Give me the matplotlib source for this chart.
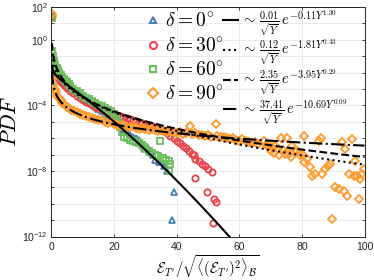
import numpy as np
import matplotlib
matplotlib.use('Agg')
import matplotlib.pyplot as plt
from matplotlib.lines import Line2D
from matplotlib.ticker import FixedLocator, NullFormatter

plt.rcParams['font.family'] = ['Liberation Sans', 'DejaVu Sans']
plt.rcParams['mathtext.fontset'] = 'cm'

# ---------------- data (x, log10 PDF) ----------------
labels_delta = [r'$\delta = 0^{\circ}$', r'$\delta = 30^{\circ}$',
                r'$\delta = 60^{\circ}$', r'$\delta = 90^{\circ}$']

x_d0 = [0.2, 0.3, 0.5, 0.8, 1.2, 1.6, 2, 2.5, 3, 3.5, 4, 4.5, 5, 5.5, 6, 6.5, 7, 7.5,
        8, 8.5, 9, 9.5, 10, 11, 12, 13, 14, 15, 16, 17, 18, 19, 20, 21, 22, 23, 24, 25,
        26, 27, 28, 29, 30, 30.8, 31.6, 32.4, 33.2, 34.5, 36, 37, 38.5, 39]
lg_d0 = [1.4, -1.2, -1.5, -1.8, -2.0, -2.1, -2.25, -2.35, -2.45, -2.52, -2.6, -2.67,
         -2.74, -2.81, -2.88, -2.95, -3.02, -3.09, -3.16, -3.23, -3.3, -3.37, -3.45,
         -3.6, -3.75, -3.9, -4.05, -4.2, -4.35, -4.5, -4.65, -4.82, -4.98, -5.12, -5.28,
         -5.45, -5.62, -5.78, -5.9, -6.0, -6.1, -6.3, -6.45, -6.6, -6.85, -7.05, -7.3,
         -7.45, -7.7, -8.0, -11.0, -9.3]

x_d30 = [0.2, 0.3, 0.5, 0.8, 1.2, 1.6, 2, 2.5, 3, 3.5, 4, 4.5, 5, 6, 7, 8, 9, 10, 11,
         12, 13, 14, 15, 16, 17, 18, 19, 20, 21, 22, 23, 24, 25, 26, 27, 28, 29, 30, 31,
         32, 33, 34, 35, 36, 37, 38, 39, 40, 41, 42, 43, 44, 45, 45.5, 46, 47, 48.1, 49,
         50, 51.3, 46, 49.7, 51.9, 52.7, 51.5]
lg_d30 = [1.45, -1.2, -1.45, -1.7, -1.9, -2.05, -2.2, -2.35, -2.5, -2.62, -2.73, -2.83,
          -2.93, -3.1, -3.25, -3.4, -3.53, -3.65, -3.77, -3.88, -3.98, -4.07, -4.16,
          -4.24, -4.32, -4.4, -4.47, -4.54, -4.6, -4.66, -4.72, -4.78, -4.84, -4.9,
          -4.96, -5.02, -5.08, -5.14, -5.2, -5.26, -5.33, -5.4, -5.48, -5.58, -5.7,
          -5.85, -6.0, -6.15, -6.3, -6.45, -6.6, -6.8, -6.95, -7.05, -7.27, -7.4, -7.58,
          -7.7, -7.85, -8.08, -8.44, -9.25, -9.7, -9.86, -11.2]

x_d60 = [0.2, 0.3, 0.5, 0.8, 1.2, 1.6, 2, 2.5, 3, 3.5, 4, 4.5, 5, 5.5, 6, 7, 8, 9, 10,
         11, 12, 13, 14, 15, 16, 17, 18, 19, 20, 20.7, 21.4, 22, 22.6, 23.2, 24, 25, 26,
         27, 28, 29, 29.5, 30, 31, 32, 33, 34, 34.8, 35.5, 36.5, 37.4, 37.5, 38]
lg_d60 = [1.35, -0.7, -1.0, -1.3, -1.55, -1.7, -1.85, -2.0, -2.15, -2.28, -2.4, -2.5,
          -2.6, -2.7, -2.8, -2.97, -3.12, -3.26, -3.4, -3.52, -3.64, -3.75, -3.85,
          -3.95, -4.05, -4.15, -4.25, -4.35, -4.5, -4.75, -5.0, -5.3, -5.6, -5.9, -6.0,
          -6.1, -6.2, -6.25, -6.3, -6.4, -6.55, -6.65, -6.8, -6.9, -7.0, -7.1, -6.2,
          -7.2, -7.3, -7.38, -7.98, -7.6]

x_d90 = [0.2, 0.3, 0.6, 1, 1.3, 1.8, 2.3, 2.9, 3.5, 4.2, 5, 5.5, 6.3, 7.1, 8, 9, 10,
         11, 12, 13, 14, 15, 16, 17, 18, 19, 20, 21, 22, 23, 24, 25, 26, 27, 28, 29, 30,
         31, 32, 33, 34, 35, 36, 37, 38, 39, 40, 41, 42, 43, 44.4, 45, 46, 47, 48, 49,
         50, 51, 52.4, 53, 54, 55, 56, 57, 58, 59, 60, 61, 62, 63, 64, 65, 66, 67.8,
         68.5, 69.5, 70, 70.5, 71, 71.5, 72.3, 72.8, 73.2, 74, 74.5, 75.3, 76, 76.6,
         76.9, 77.5, 78.5, 79.3, 80.1, 80.6, 80.8, 81.7, 82.7, 83.3, 84.2, 85.4, 86,
         86.5, 87.5, 88.2, 89, 89.7, 90.7, 91.8, 92.9, 93.4, 93.9, 94.5, 95, 96.1, 96.5,
         97.1, 97.7, 98.2, 98.7, 99.3, 99.8]
lg_d90 = [1.6, -2.4, -2.7, -3.0, -3.2, -3.4, -3.55, -3.7, -3.85, -3.97, -4.08, -4.15,
          -4.25, -4.33, -4.42, -4.52, -4.6, -4.65, -4.72, -4.78, -4.85, -4.9, -4.88,
          -5.0, -5.05, -5.0, -5.12, -5.2, -5.25, -5.2, -5.3, -5.32, -5.28, -5.38, -5.42,
          -5.35, -5.45, -5.5, -5.42, -5.48, -5.55, -5.5, -5.58, -5.62, -5.55, -5.65,
          -5.7, -5.6, -5.72, -5.68, -5.25, -5.75, -5.7, -5.8, -5.78, -5.85, -5.82, -5.9,
          -5.15, -5.88, -5.95, -5.9, -6.0, -6.05, -5.98, -6.1, -6.15, -6.05, -6.2,
          -6.22, -6.3, -6.25, -6.35, -6.16, -6.4, -6.45, -6.8, -6.55, -6.9, -6.5, -6.65,
          -7.05, -5.96, -6.7, -6.95, -5.96, -6.97, -7.17, -6.47, -6.8, -6.77, -7.0,
          -6.97, -5.86, -7.47, -7.27, -7.78, -8.28, -8.18, -6.16, -5.96, -8.18, -7.88,
          -7.7, -7.58, -10.9, -8.99, -9.09, -6.26, -9.19, -6.67, -9.5, -8.18, -6.06,
          -8.3, -7.38, -8.28, -9.7, -8.5, -8.18, -7.9]

series_x = [x_d0, x_d30, x_d60, x_d90]
series_lg = [lg_d0, lg_d30, lg_d60, lg_d90]

# fitted curves  a/sqrt(Y) * exp(-b Y^c), parameters given in the legend
fit_a = [0.01, 0.12, 2.35, 37.41]
fit_b = [0.11, 1.81, 3.95, 10.69]
fit_c = [1.30, 0.43, 0.29, 0.09]
fit_labels = [r'$\sim\,\frac{0.01}{\sqrt{Y}}\,e^{-0.11Y^{1.30}}$',
              r'$\sim\,\frac{0.12}{\sqrt{Y}}\,e^{-1.81Y^{0.43}}$',
              r'$\sim\,\frac{2.35}{\sqrt{Y}}\,e^{-3.95Y^{0.29}}$',
              r'$\sim\,\frac{37.41}{\sqrt{Y}}\,e^{-10.69Y^{0.09}}$']

colors = ['#4a7db3', '#e8424b', '#6cbf5c', '#ff9a2e']
markers = ['^', 'o', 's', 'D']
msizes = [4.5, 4.5, 4.0, 4.0]
lstyles = ['-', ':', '--', '-.']

ytick_vals = [1e-12, 1e-8, 1e-4, 1e0, 1e2]
ytick_labels = [r'$\mathregular{10^{-12}}$', r'$\mathregular{10^{-8}}$',
                r'$\mathregular{10^{-4}}$', r'$\mathregular{10^{0}}$',
                r'$\mathregular{10^{2}}$']
xtick_vals = [0, 20, 40, 60, 80, 100]

# ---------------- figure ----------------
fig = plt.figure(figsize=(3.74, 2.80), dpi=100)
ax = fig.add_axes([0.1377, 0.155, 0.837, 0.82])

for xs, lg, c, m, ms in zip(series_x, series_lg, colors, markers, msizes):
    ax.plot(xs, 10.0 ** np.array(lg), ls='none', marker=m, mfc='none', mec=c,
            ms=ms, mew=1.3, zorder=2)

Y = np.linspace(0.15, 100, 3000)
for a, b, c, ls in zip(fit_a, fit_b, fit_c, lstyles):
    ax.plot(Y, a / np.sqrt(Y) * np.exp(-b * Y ** c), color='k', ls=ls, lw=1.5, zorder=3)

ax.set_yscale('log')
ax.set_xlim(0, 100)
ax.set_ylim(1e-12, 1e2)
ax.yaxis.set_major_locator(FixedLocator(ytick_vals))
ax.set_yticklabels(ytick_labels)
ax.yaxis.set_minor_locator(FixedLocator([10.0 ** k for k in range(-12, 3)]))
ax.yaxis.set_minor_formatter(NullFormatter())
ax.set_xticks(xtick_vals)
ax.set_xticklabels([str(v) for v in xtick_vals])

ax.grid(True, which='both', color='#e6e6e6', lw=0.6, zorder=0)
ax.set_axisbelow(True)
ax.tick_params(which='both', direction='in', top=True, right=True, length=2.5,
               width=0.6, colors='#262626', labelsize=7.5)
ax.tick_params(axis='x', pad=4)
ax.tick_params(axis='y', pad=2.5)
ax.tick_params(which='minor', length=2.0)
for s in ax.spines.values():
    s.set_color('#262626')
    s.set_linewidth(0.7)

ax.set_xlabel(r'$\mathcal{E}_{T^{\prime}}/\sqrt{\langle(\mathcal{E}_{T^{\prime}})^2\rangle_{\mathcal{B}}}$',
              fontsize=10.5, labelpad=0.5)
ax.set_ylabel(r'$PDF$', fontsize=16, labelpad=1)

# legend: two aligned columns (data markers / fitted curves)
h_data = [Line2D([], [], ls='none', marker=m, mfc='none', mec=c, ms=5, mew=1.5)
          for c, m in zip(colors, markers)]
h_fit = [Line2D([], [], color='k', ls=ls, lw=1.5) for ls in lstyles]

leg_fit = ax.legend(h_fit, fit_labels, loc='upper left',
                    bbox_to_anchor=(0.548, 0.995), frameon=False, fontsize=10.5,
                    handlelength=1.05, handletextpad=0.15, labelspacing=0.0,
                    borderpad=0, borderaxespad=0)
ax.add_artist(leg_fit)
ax.legend(h_data, labels_delta, loc='upper left',
          bbox_to_anchor=(0.305, 0.975), frameon=False, fontsize=14,
          handlelength=0.6, handletextpad=0.35, labelspacing=0.3,
          borderpad=0, borderaxespad=0)

fig.savefig('out.png', dpi=100)
